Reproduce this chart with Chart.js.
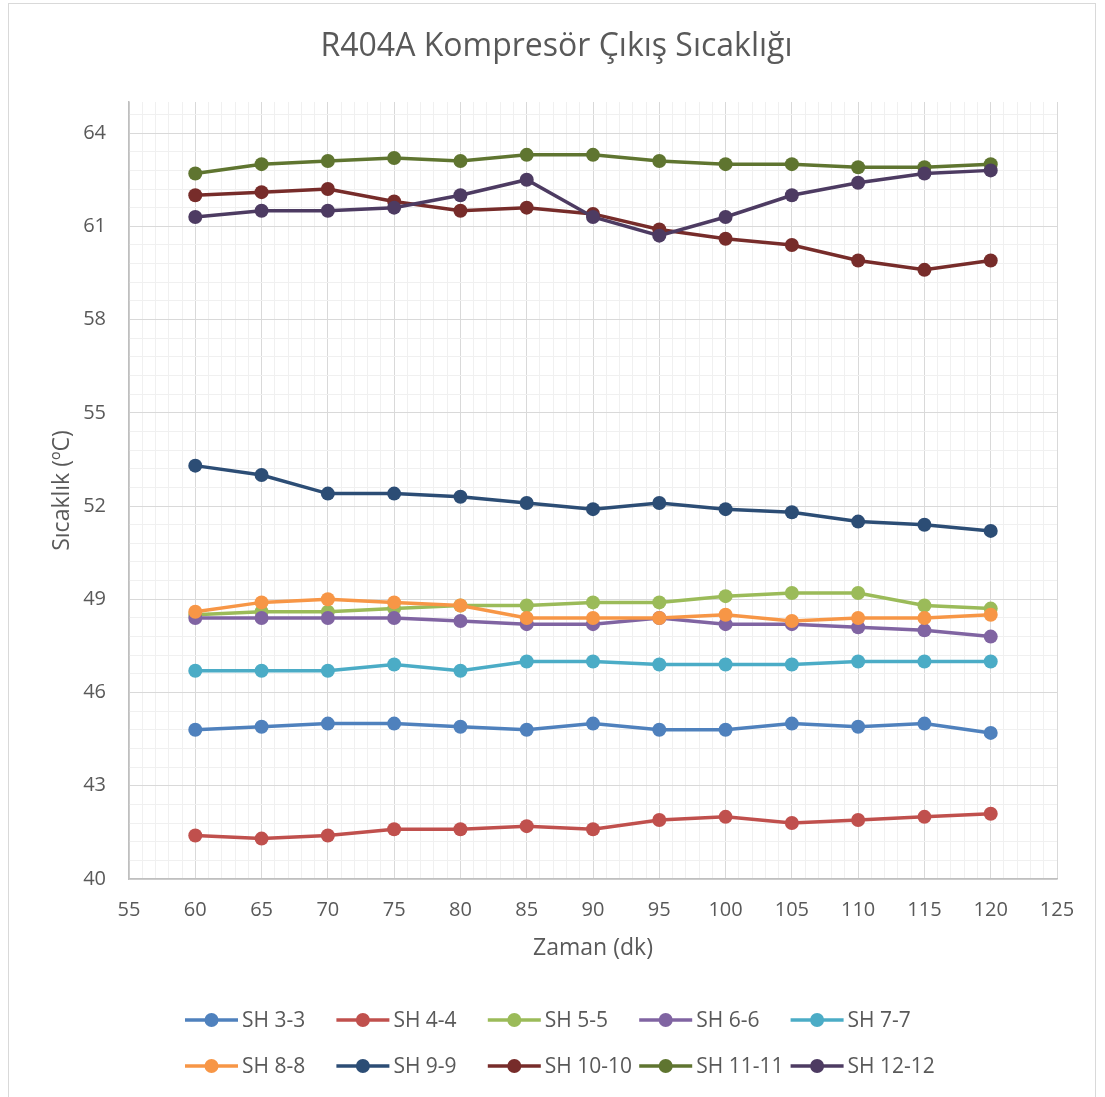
<!DOCTYPE html>
<html>
<head>
<meta charset="utf-8">
<script src="https://cdn.jsdelivr.net/npm/chart.js@4.4.0/dist/chart.umd.min.js"></script>
<style>
  html, body { margin: 0; padding: 0; background: #ffffff; }
  #wrap { width: 1105px; height: 1097px; position: relative; }
</style>
</head>
<body>
<div id="wrap"><canvas id="c" width="1105" height="1097"></canvas></div>
<script>
// ---- data ----
const time = [60, 65, 70, 75, 80, 85, 90, 95, 100, 105, 110, 115, 120];
const sh33   = [44.8, 44.9, 45.0, 45.0, 44.9, 44.8, 45.0, 44.8, 44.8, 45.0, 44.9, 45.0, 44.7];
const sh44   = [41.4, 41.3, 41.4, 41.6, 41.6, 41.7, 41.6, 41.9, 42.0, 41.8, 41.9, 42.0, 42.1];
const sh55   = [48.5, 48.6, 48.6, 48.7, 48.8, 48.8, 48.9, 48.9, 49.1, 49.2, 49.2, 48.8, 48.7];
const sh66   = [48.4, 48.4, 48.4, 48.4, 48.3, 48.2, 48.2, 48.4, 48.2, 48.2, 48.1, 48.0, 47.8];
const sh77   = [46.7, 46.7, 46.7, 46.9, 46.7, 47.0, 47.0, 46.9, 46.9, 46.9, 47.0, 47.0, 47.0];
const sh88   = [48.6, 48.9, 49.0, 48.9, 48.8, 48.4, 48.4, 48.4, 48.5, 48.3, 48.4, 48.4, 48.5];
const sh99   = [53.3, 53.0, 52.4, 52.4, 52.3, 52.1, 51.9, 52.1, 51.9, 51.8, 51.5, 51.4, 51.2];
const sh1010 = [62.0, 62.1, 62.2, 61.8, 61.5, 61.6, 61.4, 60.9, 60.6, 60.4, 59.9, 59.6, 59.9];
const sh1111 = [62.7, 63.0, 63.1, 63.2, 63.1, 63.3, 63.3, 63.1, 63.0, 63.0, 62.9, 62.9, 63.0];
const sh1212 = [61.3, 61.5, 61.5, 61.6, 62.0, 62.5, 61.3, 60.7, 61.3, 62.0, 62.4, 62.7, 62.8];

const seriesNames = ['SH 3-3', 'SH 4-4', 'SH 5-5', 'SH 6-6', 'SH 7-7', 'SH 8-8', 'SH 9-9', 'SH 10-10', 'SH 11-11', 'SH 12-12'];
const seriesValues = [sh33, sh44, sh55, sh66, sh77, sh88, sh99, sh1010, sh1111, sh1212];
const seriesColors = ['#4F81BD', '#C0504D', '#9BBB59', '#8064A2', '#4BACC6', '#F79646', '#2C4D75', '#772C2A', '#5F7530', '#4D3B62'];

const xMajorTicks = [55, 60, 65, 70, 75, 80, 85, 90, 95, 100, 105, 110, 115, 120, 125];
const yMajorTicks = [40, 43, 46, 49, 52, 55, 58, 61, 64];
const xMin = 55, xMax = 125, xMinorStep = 1;
const yMin = 40, yMax = 65, yMinorStep = 0.6, yLastMinor = 64.6;

const titleText = 'R404A Kompresör Çıkış Sıcaklığı';
const xTitle = 'Zaman (dk)';
const yTitle = 'Sıcaklık (ºC)';

// ---- styling ----
const FONT = '"Open Sans", "Noto Sans", sans-serif';
const TEXT = '#595959';
const MAJOR = '#d9d9d9';
const MINOR = '#f0f0f0';

const r1 = v => Math.round(v * 10) / 10;
const isMajorX = v => xMajorTicks.some(t => Math.abs(t - v) < 1e-6);
const isMajorY = v => yMajorTicks.some(t => Math.abs(t - v) < 1e-6);

const datasets = seriesNames.map((name, i) => ({
  label: name,
  data: time.map((t, k) => ({ x: t, y: seriesValues[i][k] })),
  borderColor: seriesColors[i],
  backgroundColor: seriesColors[i],
  pointBackgroundColor: seriesColors[i],
  pointBorderColor: seriesColors[i],
  pointBorderWidth: 0,
  pointRadius: 7,
  pointHoverRadius: 7,
  borderWidth: 3.5,
  tension: 0,
  order: seriesNames.length - i
}));

const bgPlugin = {
  id: 'bgBorder',
  beforeDraw(chart) {
    const ctx = chart.ctx;
    ctx.save();
    ctx.fillStyle = '#ffffff';
    ctx.fillRect(0, 0, chart.width, chart.height);
    ctx.strokeStyle = '#d9d9d9';
    ctx.lineWidth = 1;
    ctx.strokeRect(8.5, 3.5, chart.width - 18, chart.height + 10);
    ctx.restore();
  }
};

const legendPlugin = {
  id: 'gridLegend',
  afterDraw(chart) {
    const ctx = chart.ctx;
    const cols = 5, colW = 151.4, startX = 185, rowY = [1020, 1066];
    ctx.save();
    chart.data.datasets.forEach((ds, i) => {
      const c = i % cols, r = Math.floor(i / cols);
      const x0 = startX + c * colW, y = rowY[r];
      ctx.strokeStyle = ds.borderColor;
      ctx.lineWidth = 3.5;
      ctx.beginPath();
      ctx.moveTo(x0, y);
      ctx.lineTo(x0 + 53, y);
      ctx.stroke();
      ctx.fillStyle = ds.backgroundColor;
      ctx.beginPath();
      ctx.arc(x0 + 26.5, y, 7, 0, Math.PI * 2);
      ctx.fill();
      ctx.fillStyle = TEXT;
      ctx.font = '21px ' + FONT;
      ctx.textBaseline = 'middle';
      ctx.textAlign = 'left';
      ctx.fillText(ds.label, x0 + 57, y + 1);
    });
    ctx.restore();
  }
};

new Chart(document.getElementById('c'), {
  type: 'line',
  data: { datasets },
  plugins: [bgPlugin, legendPlugin],
  options: {
    responsive: false,
    animation: false,
    events: [],
    layout: { padding: { left: 8, right: 0, top: 0, bottom: 128 } },
    plugins: {
      legend: { display: false },
      tooltip: { enabled: false },
      title: {
        display: true,
        text: titleText,
        color: TEXT,
        font: { family: FONT, size: 32, weight: 'normal', lineHeight: 1.2 },
        padding: { top: 27.8, bottom: 35.8 }
      }
    },
    scales: {
      x: {
        type: 'linear',
        min: xMin, max: xMax,
        afterBuildTicks: (axis) => {
          const t = [];
          for (let v = xMin; v <= xMax + 1e-9; v += xMinorStep) t.push({ value: v });
          axis.ticks = t;
        },
        afterFit: (s) => { s.height = 90; },
        grid: {
          drawTicks: false,
          color: (c) => isMajorX(c.tick.value) ? MAJOR : MINOR,
          lineWidth: 1
        },
        border: { display: true, color: '#bfbfbf', width: 1.5 },
        ticks: {
          autoSkip: false, maxRotation: 0, minRotation: 0,
          padding: 19,
          color: TEXT,
          font: { family: FONT, size: 20 },
          callback: (v) => isMajorX(v) ? String(v) : ''
        },
        title: {
          display: true, text: xTitle, color: TEXT,
          font: { family: FONT, size: 23, lineHeight: 1.2 },
          padding: { top: 0, bottom: 7.2 }
        }
      },
      y: {
        type: 'linear',
        min: yMin, max: yMax,
        afterBuildTicks: (axis) => {
          const t = [];
          for (let k = 0; ; k++) {
            const v = r1(yMin + k * yMinorStep);
            if (v > yLastMinor + 1e-9) break;
            t.push({ value: v });
          }
          axis.ticks = t;
        },
        afterFit: (s) => { s.width = 121; },
        grid: {
          drawTicks: false,
          color: (c) => isMajorY(c.tick.value) ? MAJOR : MINOR,
          lineWidth: 1
        },
        border: { display: true, color: '#bfbfbf', width: 1.5 },
        ticks: {
          autoSkip: false,
          padding: 23,
          color: TEXT,
          font: { family: FONT, size: 20 },
          callback: (v) => isMajorY(v) ? String(v) : ''
        },
        title: {
          display: true, text: yTitle, color: TEXT,
          font: { family: FONT, size: 23, lineHeight: 1.2 },
          padding: { top: 40.2, bottom: 0 }
        }
      },
      yR: {
        type: 'linear', position: 'right', min: 0, max: 1,
        display: true,
        grid: { display: false, drawTicks: false },
        border: { display: false },
        ticks: { display: false },
        afterFit: (s) => { s.width = 48; }
      }
    }
  }
});
</script>
</body>
</html>
